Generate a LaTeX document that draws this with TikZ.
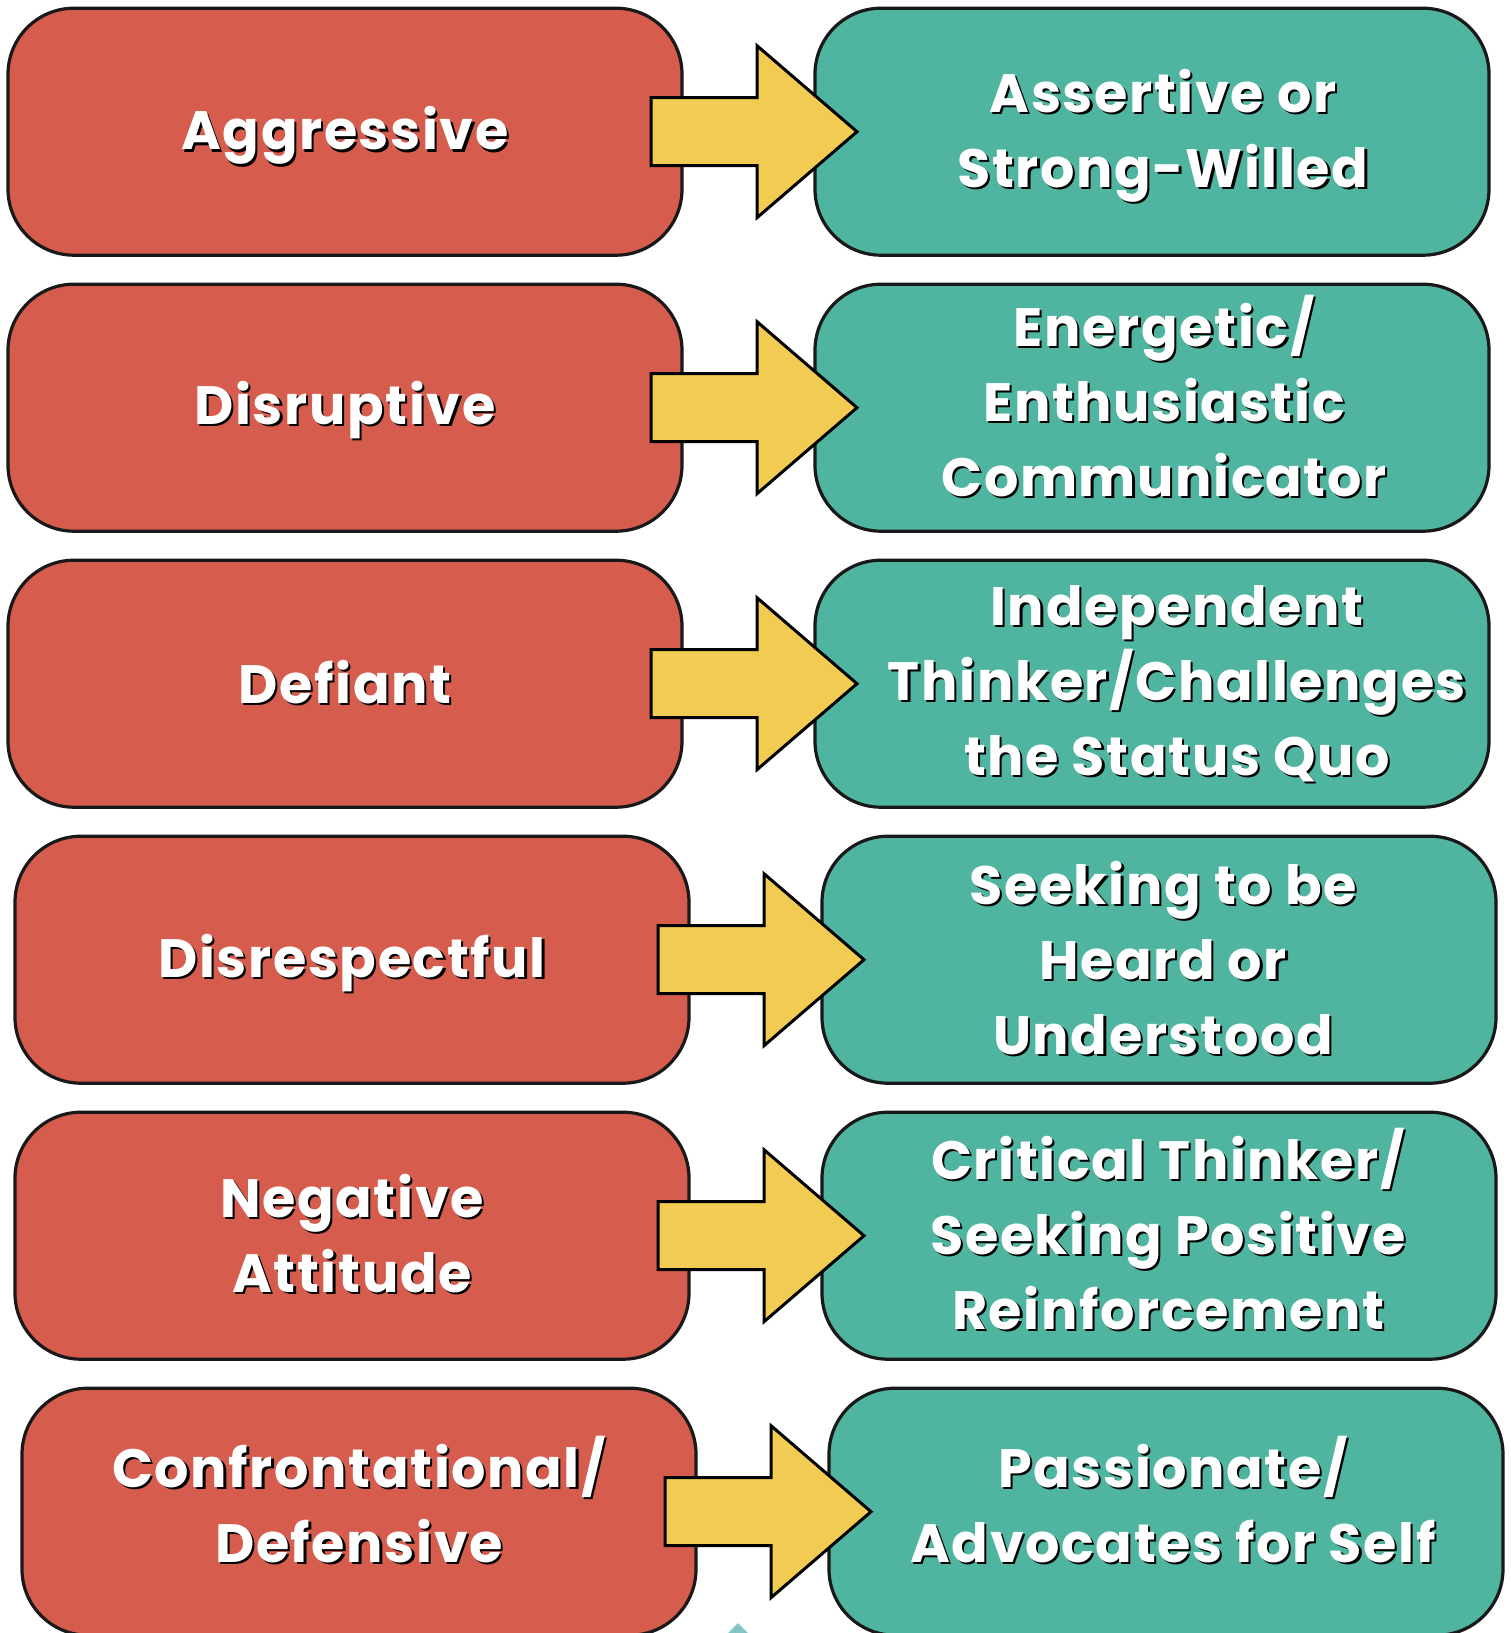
\documentclass[tikz,border=0pt]{standalone}
\usepackage{fontspec}
\setmainfont{Poppins}[LetterSpace=3]
\begin{document}
\begin{tikzpicture}[x=0.5pt,y=-0.5pt,
  redbox/.style={draw=black!90,line width=1.6pt,fill=boxred,rounded corners=33pt,minimum width=337pt,minimum height=123.5pt,inner sep=0pt},
  tealbox/.style={draw=black!90,line width=1.6pt,fill=boxteal,rounded corners=33pt,minimum width=337pt,minimum height=123.5pt,inner sep=0pt},
  lbl/.style={text=white,font=\fontsize{27}{37.5}\selectfont\bfseries,align=center,inner sep=0pt},
  shd/.style={text=black,font=\fontsize{27}{37.5}\selectfont\bfseries,align=center,inner sep=0pt},
  arr/.style={draw=black,line width=1.5pt,fill=arrowyellow,line join=miter}
]
\definecolor{boxred}{HTML}{D65C4D}
\definecolor{boxteal}{HTML}{4FB5A1}
\definecolor{arrowyellow}{HTML}{F2CC52}
\definecolor{lightteal}{HTML}{84C4C2}
\useasboundingbox (0,0) rectangle (1510,1633);
\fill[lightteal] (738,1623) -- (748,1633) -- (728,1633) -- cycle;
% #1 index, #2 y center, #3 x shift, #4 left text, #5 right text, #6 right text x offset, #7 left text y offset, #8 right text y offset
\newcommand\myrow[8]{%
  \node[redbox] (L#1) at (345+#3,#2) {};
  \node[tealbox] (R#1) at (1152+#3,#2) {};
  \node[shd] (LS#1) at ([shift={(1.1pt,-#7*0.5pt-1.1pt)}]L#1.center) {#4};
  \node[lbl] (LT#1) at ([shift={(0pt,-#7*0.5pt)}]L#1.center) {#4};
  \node[shd] (RS#1) at ([shift={(#6*0.5pt+1.1pt,-#8*0.5pt-1.1pt)}]R#1.center) {#5};
  \node[lbl] (RT#1) at ([shift={(#6*0.5pt,-#8*0.5pt)}]R#1.center) {#5};
  \coordinate (A#1) at (651+#3,#2);
  \draw[arr] (A#1) ++(0,-34) -- ++(106,0) -- ++(0,-52) -- ++(100,86) -- ++(-100,86) -- ++(0,-52) -- ++(-106,0) -- cycle;
}
\myrow{1}{131.7}{0}{Aggressive}{Assertive or\\Strong-Willed}{11}{4}{4}
\myrow{2}{407.7}{0}{Disruptive}{Energetic/\\Enthusiastic\\Communicator}{12}{2}{-12}
\myrow{3}{683.7}{0}{Defiant}{Independent\\Thinker/Challenges\\the Status Quo}{25}{-2}{0}
\myrow{4}{959.7}{7}{Disrespectful}{Seeking to be\\Heard or\\Understood}{4}{3}{-2}
\myrow{5}{1235.7}{7}{Negative\\Attitude}{Critical Thinker/\\Seeking Positive\\Reinforcement}{9}{-2}{-7}
\myrow{6}{1511.7}{14}{Confrontational/\\Defensive}{Passionate/\\Advocates for Self}{7}{-12}{-12}
\end{tikzpicture}
\end{document}
